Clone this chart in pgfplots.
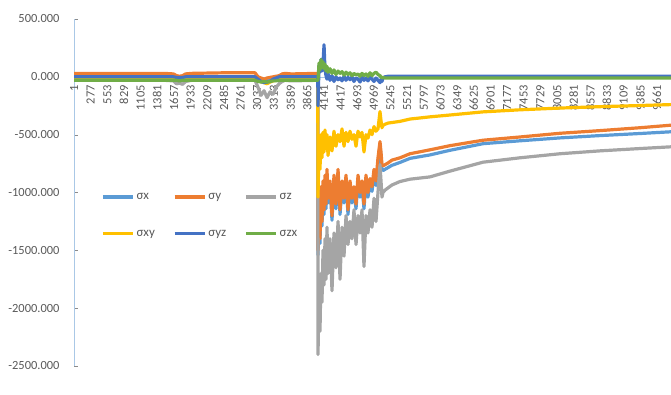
\documentclass[border=0pt]{standalone}
\usepackage{fontspec}
\setmainfont{Carlito}
\usepackage{pgfplots}
\pgfplotsset{compat=1.18}
\usepackage{pgfplotstable}
\definecolor{cx}{RGB}{91,155,213}
\definecolor{cy}{RGB}{237,125,49}
\definecolor{cz}{RGB}{165,165,165}
\definecolor{cxy}{RGB}{255,192,0}
\definecolor{cyz}{RGB}{68,114,196}
\definecolor{czx}{RGB}{112,173,71}
\definecolor{lbl}{RGB}{89,89,89}
\definecolor{axl}{RGB}{170,200,230}

\pgfplotstableread{
x sx sy sz sxy syz szx
1 0 30 -30 -25 0 -30
800 0 30 -30 -25 0 -30
1500 0 30 -30 -25 0 -30
1650 0 25 -35 -25 0 -30
1700 -5 10 -60 -30 -5 -30
1750 -5 5 -55 -30 -5 -35
1800 -5 10 -65 -30 -5 -30
1850 0 25 -40 -25 0 -30
1950 0 30 -30 -25 0 -30
2500 0 35 -30 -25 0 -30
3000 0 35 -30 -25 0 -30
3050 -10 0 -90 -30 -20 -40
3100 -20 -10 -160 -40 -40 -45
3150 -30 -20 -120 -50 -50 -40
3200 -30 -10 -180 -60 -45 -45
3250 -20 -5 -130 -45 -40 -40
3300 -10 0 -150 -35 -20 -35
3350 -5 5 -90 -30 -10 -35
3400 0 10 -60 -25 0 -30
3450 0 25 -40 -25 0 -30
3500 0 30 -30 -25 0 -30
3600 0 25 -35 -25 0 -30
4040 0 30 -30 -25 0 -30
4044 -1540 -1500 -2400 -1040 -250 -30
4061 -1140 -1100 -1900 -600 100 120
4077 -1440 -1400 -2200 -800 40 60
4094 -990 -950 -1700 -500 150 150
4110 -1290 -1250 -1950 -700 50 80
4127 -940 -900 -1500 -480 120 130
4144 -1190 -1150 -1800 -650 277 70
4160 -890 -850 -1400 -460 60 110
4177 -1140 -1100 -1750 -620 10 50
4193 -840 -800 -1300 -500 -20 90
4210 -1090 -1050 -1700 -680 30 40
4243 -940 -900 -1400 -520 -30 70
4276 -1240 -1200 -1850 -640 10 30
4309 -890 -850 -1350 -470 -40 60
4342 -1140 -1100 -1650 -600 0 20
4376 -840 -800 -1250 -500 -25 50
4409 -1190 -1150 -1750 -560 -10 30
4442 -940 -900 -1300 -450 -35 45
4475 -1090 -1050 -1550 -600 5 15
4508 -890 -850 -1200 -480 -30 40
4541 -1190 -1150 -1450 -560 -5 20
4574 -940 -900 -1250 -470 -25 35
4607 -1090 -1050 -1400 -540 0 10
4640 -990 -950 -1150 -500 -40 30
4674 -1140 -1100 -1450 -600 -10 15
4707 -890 -850 -1200 -470 -20 25
4740 -1040 -1000 -1350 -520 -45 5
4773 -940 -900 -1150 -480 -5 30
4806 -1140 -1100 -1640 -650 -30 10
4839 -890 -850 -1200 -500 -10 25
4872 -1040 -1000 -1350 -530 -35 5
4906 -920 -880 -1150 -460 -5 35
4939 -990 -950 -1300 -500 -20 10
4972 -840 -800 -1050 -430 -40 30
5005 -940 -900 -1250 -470 -10 40
5038 -740 -700 -1000 -450 -30 20
5071 -600 -560 -760 -300 -50 10
5088 -690 -650 -900 -380 -20 0
5104 -800 -760 -1040 -440 -40 -10
5121 -810 -770 -1000 -420 -10 -5
5154 -800 -760 -980 -410 0 -10
5204 -785 -745 -960 -400 5 -10
5270 -765 -720 -935 -395 5 -10
5403 -740 -700 -905 -385 5 -10
5568 -705 -665 -885 -365 5 -10
5900 -675 -631 -865 -346 5 -10
6232 -635 -595 -815 -330 5 -10
6778 -578 -548 -738 -303 5 -10
7391 -553 -520 -700 -285 5 -10
8054 -528 -488 -665 -270 5 -10
8717 -508 -465 -640 -258 5 -10
9380 -490 -440 -620 -248 5 -10
9893 -475 -418 -605 -240 5 -10
}\stress

\begin{document}
\begin{tikzpicture}
\useasboundingbox (0,0) rectangle (671bp,395bp);
\begin{axis}[
  at={(74bp,29bp)}, anchor=south west,
  scale only axis, width=597bp, height=347bp,
  xmin=1, xmax=9893, ymin=-2500, ymax=500,
  axis x line=middle, axis y line=left,
  axis line style={-},
  every inner x axis line/.append style={-},
  every outer y axis line/.append style={-},
  x axis line style={draw=axl},
  y axis line style={draw=axl},
  hide obscured x ticks=false, hide obscured y ticks=false,
  xtick={1,277,...,9661},
  ytick={-2500,-2000,...,500},
  scaled x ticks=false, scaled y ticks=false,
  tick align=inside, major tick length=4bp,
  xtick style={draw=none},
  ytick style={draw=lbl!70},
  tick label style={font=\fontsize{12.5}{14}\selectfont, text=lbl},
  xticklabel style={rotate=90, anchor=east, xshift=-5bp, /pgf/number format/1000 sep={}, /pgf/number format/assume math mode=true},
  yticklabel style={xshift=-11bp, /pgf/number format/fixed, /pgf/number format/fixed zerofill, /pgf/number format/precision=3, /pgf/number format/1000 sep={}, /pgf/number format/assume math mode=true},
  legend style={at={(0.04,0.51)}, anchor=north west, draw=none, fill=none, legend columns=3,
    font=\fontsize{13}{15}\selectfont, text=lbl, row sep=25bp,
    /tikz/every even column/.append style={column sep=16bp}},
  legend cell align=left,
  legend image code/.code={\draw[#1, line width=3.5bp, line cap=butt] (0bp,0bp) -- (30bp,0bp);},
  every axis plot/.append style={line width=3.2bp, line join=round},
]
\addplot[cx] table[x=x,y=sx]{\stress};
\addlegendentry{σx}
\addplot[cy] table[x=x,y=sy]{\stress};
\addlegendentry{σy}
\addplot[cz] table[x=x,y=sz]{\stress};
\addlegendentry{σz}
\addplot[cxy] table[x=x,y=sxy]{\stress};
\addlegendentry{σxy}
\addplot[cyz] table[x=x,y=syz]{\stress};
\addlegendentry{σyz}
\addplot[czx] table[x=x,y=szx]{\stress};
\addlegendentry{σzx}
\end{axis}
\end{tikzpicture}
\end{document}
